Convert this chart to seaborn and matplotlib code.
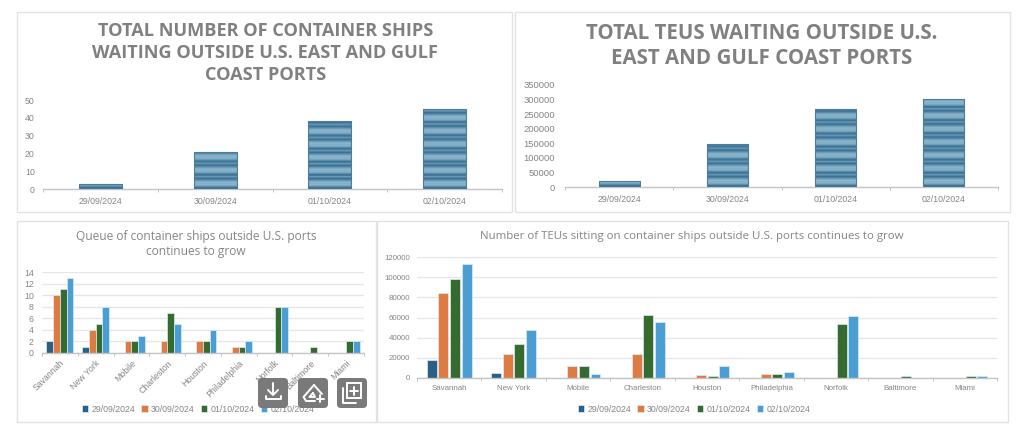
import matplotlib
matplotlib.use("Agg")
import matplotlib.pyplot as plt
import matplotlib.colors as mcolors
from matplotlib.patches import FancyBboxPatch, Rectangle
import numpy as np
import pandas as pd
import seaborn as sns

dates = ["29/09/2024", "30/09/2024", "01/10/2024", "02/10/2024"]
ports = ["Savannah", "New York", "Mobile", "Charleston", "Houston",
         "Philadelphia", "Norfolk", "Baltimore", "Miami"]

total_ships = [3, 21, 38, 45]
total_teus = [22000, 149000, 269000, 302000]

ships_0929 = [2, 1, 0, 0, 0, 0, 0, 0, 0]
ships_0930 = [10, 4, 2, 2, 2, 1, 0, 0, 0]
ships_1001 = [11, 5, 2, 7, 2, 1, 8, 1, 2]
ships_1002 = [13, 8, 3, 5, 4, 2, 8, 0, 2]

teus_0929 = [17500, 4500, 0, 0, 0, 0, 0, 0, 0]
teus_0930 = [84000, 24000, 11500, 23500, 3000, 3500, 0, 0, 0]
teus_1001 = [98000, 33500, 11500, 62500, 1500, 3500, 53500, 1500, 2000]
teus_1002 = [113000, 48000, 4000, 55500, 11500, 6000, 61000, 0, 1800]

title_ships = "TOTAL NUMBER OF CONTAINER SHIPS\nWAITING OUTSIDE U.S. EAST AND GULF\nCOAST PORTS"
title_teus = "TOTAL TEUS WAITING OUTSIDE U.S.\nEAST AND GULF COAST PORTS"
title_queue = "Queue of container ships outside U.S. ports\ncontinues to grow"
title_sitting = "Number of TEUs sitting on container ships outside U.S. ports continues to grow"

palette = ["#2b5f85", "#dd7b43", "#356b2e", "#4a9ed3"]
# one stripe period of the textured bars, bottom row first
stripe_colors = ["#41769a", "#3f7496", "#5d90ad", "#7aa8c1", "#8ab4ca", "#7faec6", "#8fb8cd",
                 "#7aa7c0", "#6596b3", "#4a7fa0", "#3c7092", "#5287a7", "#6c9cb8"]
text_grey = "#858585"
W, H = 1024, 437

sns.set_theme(style="white")
plt.rcParams["font.family"] = ["Liberation Sans", "DejaVu Sans"]
fig = plt.figure(figsize=(W / 100, H / 100), dpi=100, facecolor="white")


def make_axes(x0, x1, y_top, y_bottom):
    return fig.add_axes([x0 / W, 1 - y_bottom / H, (x1 - x0) / W, (y_bottom - y_top) / H])


def style_axes(ax, n, ymax, yticks, xpad, ypad, xsize=6.3, ysize=6.3, grid=False):
    ax.set_xlim(-0.5, n - 0.5)
    ax.set_ylim(0, ymax)
    ax.set_yticks(yticks)
    ax.set_xlabel("")
    ax.set_ylabel("")
    ax.set_xticks(np.arange(-0.5, n), minor=True)
    ax.tick_params(axis="x", which="major", length=0, labelsize=xsize, labelcolor=text_grey, pad=xpad)
    ax.tick_params(axis="x", which="minor", length=2, width=0.7, color="#c4c4c4", direction="out", bottom=True)
    ax.tick_params(axis="y", length=0, labelsize=ysize, labelcolor=text_grey, pad=ypad)
    sns.despine(ax=ax, left=True)
    ax.spines["bottom"].set_color("#c4c4c4")
    ax.spines["bottom"].set_linewidth(1.0)
    ax.set_facecolor("none")
    if grid:
        ax.grid(axis="y", color="#e6e6e6", linewidth=1.0)
        ax.set_axisbelow(True)


def striped_bars(ax, dates, values, width):
    df = pd.DataFrame({"date": dates, "value": values})
    sns.barplot(data=df, x="date", y="value", ax=ax, width=width, color="#3f7496", zorder=2)
    height = int(ax.get_position().height * H)
    rows = [mcolors.to_rgb(stripe_colors[i % len(stripe_colors)]) for i in range(height)][::-1]
    texture = np.array(rows).reshape(-1, 1, 3)
    for bar in list(ax.patches):
        img = ax.imshow(texture, extent=(bar.get_x(), bar.get_x() + bar.get_width(), 0, ax.get_ylim()[1]),
                        aspect="auto", interpolation="bilinear", zorder=3)
        img.set_clip_path(bar)
        bar.set_facecolor("none")
        bar.set_edgecolor("#4a7c9b")
        bar.set_linewidth(0.8)
        bar.set_zorder(4)


def grouped_bars(ax, series, width, gap):
    df = pd.DataFrame({"port": ports})
    for d, s in zip(dates, series):
        df[d] = s
    df = df.melt(id_vars="port", var_name="date", value_name="value")
    sns.barplot(data=df, x="port", y="value", hue="date", hue_order=dates, palette=palette, ax=ax,
                width=width, gap=gap, saturation=1, edgecolor="#dcecf6", linewidth=0.5, zorder=2)


def bottom_legend(ax, cx, cy):
    handles, labels = ax.get_legend_handles_labels()
    ax.legend(handles, labels, loc="center", bbox_to_anchor=(cx / W, 1 - cy / H),
              bbox_transform=fig.transFigure, ncol=4, frameon=False, fontsize=6.3,
              labelcolor=text_grey, handlelength=0.75, handleheight=0.75,
              handletextpad=0.4, columnspacing=0.66, borderpad=0)


# top left
ax1 = make_axes(43, 502, 100, 189)
ax1.set_ylim(0, 50)
striped_bars(ax1, dates, total_ships, 0.375)
style_axes(ax1, 4, 50, [0, 10, 20, 30, 40, 50], 5.5, 6)

# top right
ax2 = make_axes(565, 998, 85, 187)
ax2.set_ylim(0, 350000)
striped_bars(ax2, dates, total_teus, 0.38)
style_axes(ax2, 4, 350000, np.arange(0, 350001, 50000), 5.5, 7, ysize=6.8)

# bottom left
ax3 = make_axes(42, 364, 272, 353)
grouped_bars(ax3, [ships_0929, ships_0930, ships_1001, ships_1002], 0.75, 0.0)
style_axes(ax3, 9, 14, np.arange(0, 15, 2), 4, 6, grid=True)
plt.setp(ax3.get_xticklabels(), rotation=45, ha="right", rotation_mode="anchor")
bottom_legend(ax3, 198, 409)

# bottom right
ax4 = make_axes(417, 997, 257, 378)
grouped_bars(ax4, [teus_0929, teus_0930, teus_1001, teus_1002], 0.72, 0.14)
style_axes(ax4, 9, 120000, np.arange(0, 120001, 20000), 5, 5, xsize=5.7, ysize=5.7, grid=True)
bottom_legend(ax4, 694, 409)

# overlay in pixel coordinates for the frames, titles and buttons
over = fig.add_axes([0, 0, 1, 1], zorder=10)
over.set_xlim(0, W)
over.set_ylim(H, 0)
over.axis("off")

for x0, y0, x1, y1 in [(17, 12, 512, 212), (515, 12, 1010, 212), (17, 221, 376, 422), (377, 221, 1008, 422)]:
    over.add_patch(Rectangle((x0, y0), x1 - x0, y1 - y0, fill=False, edgecolor="#e2e2e2", linewidth=1.0))

over.text(265.5, 53, title_ships, ha="center", va="center", family="Open Sans", weight="bold",
          fontsize=13.1, color="#808080", linespacing=1.29)
over.text(762, 46, title_teus, ha="center", va="center", family="Open Sans", weight="bold",
          fontsize=14.8, color="#808080", linespacing=1.26)
over.text(196, 244, title_queue, ha="center", va="center", family="Open Sans",
          fontsize=8.6, color=text_grey, linespacing=1.2)
over.text(691.5, 237, title_sitting, ha="center", va="center", family="Open Sans",
          fontsize=8.25, color=text_grey)

# the three grey buttons sitting on top of the picture
for bx in [258, 298, 337]:
    over.add_patch(FancyBboxPatch((bx + 3, 381), 24, 24, boxstyle="round,pad=3,rounding_size=4",
                                  facecolor="#767676", edgecolor="none", alpha=0.97))
icon = dict(color="white", linewidth=1.4, solid_capstyle="round", solid_joinstyle="round")
# download
over.plot([273, 273], [383, 394], **icon)
over.plot([268, 273, 278], [390, 395, 390], **icon)
over.plot([265.5, 265.5, 281, 281], [396, 399, 399, 396], **icon)
# triangle with plus
over.plot([314, 303.5, 306, 315], [385, 397, 401, 401], **icon)
over.plot([314, 321, 322], [385, 393, 394], **icon)
over.plot([313, 309.5, 315, 313], [393, 397, 397, 393], **icon)
over.plot([320, 320], [395, 402], **icon)
over.plot([316.5, 323.5], [398.5, 398.5], **icon)
# stacked squares with plus
over.add_patch(Rectangle((347, 383), 14, 15, fill=False, edgecolor="white", linewidth=1.4))
over.plot([342.5, 342.5, 356], [388, 403, 403], **icon)
over.plot([354, 354], [386.5, 394.5], **icon)
over.plot([350, 358], [390.5, 390.5], **icon)

fig.savefig("out.png", dpi=100)
